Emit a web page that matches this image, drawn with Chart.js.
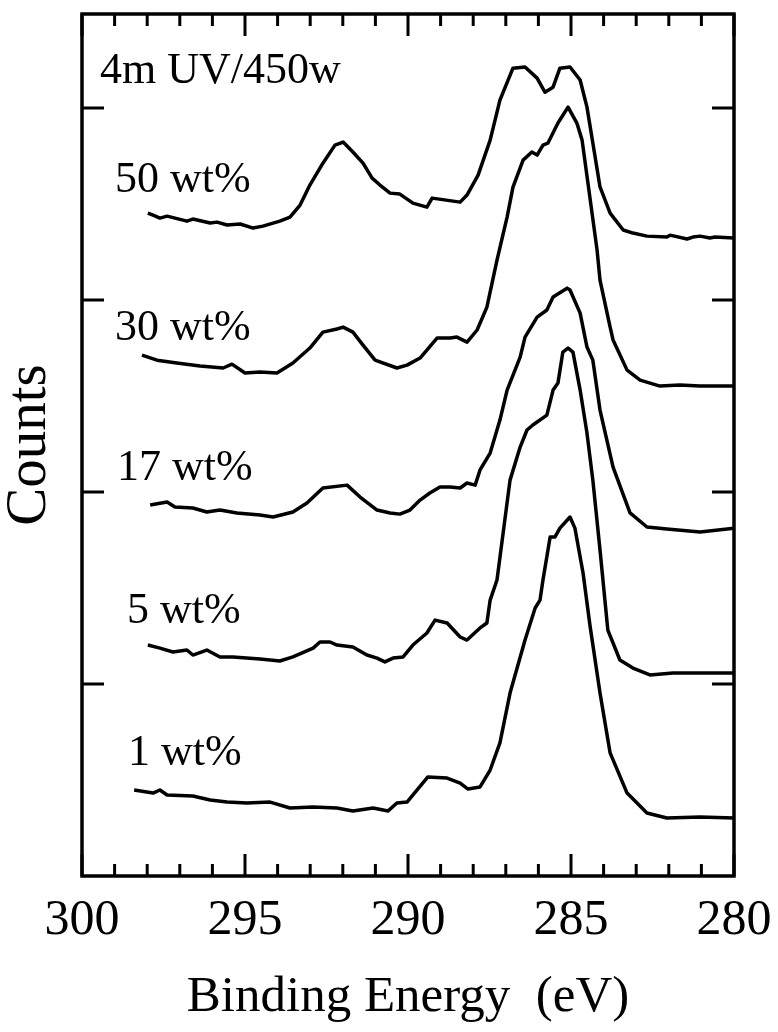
<!DOCTYPE html>
<html>
<head>
<meta charset="utf-8">
<script src="https://cdn.jsdelivr.net/npm/chart.js@4.4.1/dist/chart.umd.min.js"></script>
<style>
  html, body { margin: 0; padding: 0; background: #fff; }
  #wrap { width: 778px; height: 1032px; }
</style>
</head>
<body>
<div id="wrap"><canvas id="graficoXps" width="778" height="1032"></canvas></div>
<script>
// C 1s spectra, binding energy (eV) vs counts (a.u.), curves are stacked
const cabecalho = '4m UV/450w';
const nomesSeries = ['50 wt%', '30 wt%', '17 wt%', '5 wt%', '1 wt%'];
const ticksEnergia = [280, 285, 290, 295, 300];
const ticksContagem = [100, 200, 300, 400];

const e50 = [297.98, 297.82, 297.61, 297.39, 296.78, 296.6, 296.07, 295.86, 295.55, 295.15, 294.75, 294.45, 294.14, 293.93, 293.62, 293.31, 293.01, 292.61, 292.24, 291.99, 291.69, 291.38, 291.1, 290.86, 290.55, 290.25, 289.85, 289.42, 289.26, 288.4, 288.19, 287.85, 287.48, 287.18, 286.78, 286.41, 286.04, 285.8, 285.55, 285.34, 285.03, 284.72, 284.51, 284.33, 284.11, 283.8, 283.4, 283.1, 282.67, 282.06, 281.96, 281.44, 281.26, 281.04, 280.74, 280.58, 280];
const c50 = [345.3, 344.2, 342.7, 343.7, 341.1, 342.2, 340.1, 340.6, 339.1, 339.6, 337.5, 338.5, 340.1, 341.1, 343.2, 349.5, 359.9, 371.3, 380.7, 382.3, 377.1, 371.3, 363.5, 359.9, 355.7, 355.2, 350.5, 348.4, 353.1, 351.0, 354.7, 365.1, 383.3, 404.1, 420.8, 421.4, 415.6, 408.3, 410.9, 420.8, 421.4, 414.6, 400.5, 381.8, 358.9, 345.3, 336.5, 334.9, 333.3, 332.8, 333.8, 331.8, 332.8, 333.3, 332.3, 332.8, 332.3];

const e30 = [298.16, 297.7, 297.09, 296.38, 295.67, 295.4, 295.0, 294.54, 294.02, 293.53, 293.01, 292.61, 292.18, 291.99, 291.69, 291.38, 291.01, 290.34, 290.03, 289.63, 289.11, 288.71, 288.5, 288.19, 287.88, 287.58, 287.27, 286.96, 286.78, 286.47, 286.2, 286.04, 285.86, 285.71, 285.4, 285.09, 284.82, 284.66, 284.48, 284.2, 284.11, 283.8, 283.71, 283.28, 282.88, 282.27, 281.66, 281.04, 280];
const c30 = [271.3, 268.7, 267.2, 265.6, 264.6, 266.6, 262.0, 262.5, 262.0, 267.2, 275.0, 283.3, 284.9, 285.9, 283.3, 276.5, 268.7, 264.6, 266.1, 269.8, 280.2, 280.2, 280.7, 278.1, 284.4, 296.3, 320.8, 343.2, 358.8, 372.9, 377.1, 375.5, 380.7, 381.7, 392.2, 400.5, 392.2, 383.3, 360.9, 326.0, 310.4, 285.9, 279.2, 263.5, 258.3, 255.2, 255.7, 255.2, 255.2];

const e17 = [297.91, 297.39, 297.15, 296.6, 296.17, 295.77, 295.25, 294.54, 294.14, 293.53, 293.1, 292.61, 291.87, 291.47, 290.95, 290.55, 290.25, 289.94, 289.63, 289.33, 289.02, 288.71, 288.4, 288.19, 287.94, 287.79, 287.48, 287.18, 286.96, 286.56, 286.41, 286.04, 285.74, 285.55, 285.12, 285.03, 284.72, 284.51, 284.33, 284.11, 283.71, 283.19, 282.67, 282.06, 281.04, 280];
const c17 = [193.2, 194.8, 192.2, 191.7, 189.6, 190.6, 189.1, 188.0, 187.0, 189.6, 194.3, 202.1, 203.6, 197.4, 190.6, 189.1, 188.5, 190.6, 195.8, 199.5, 202.6, 202.6, 202.1, 204.7, 203.6, 211.5, 220.3, 237.5, 253.1, 270.3, 280.7, 291.1, 294.8, 301.6, 306.2, 305.2, 293.2, 275.5, 268.7, 242.7, 213.0, 189.1, 181.8, 180.7, 179.2, 181.2];

const e5 = [297.98, 297.61, 297.21, 296.78, 296.6, 296.17, 295.77, 295.37, 294.54, 293.93, 293.53, 292.91, 292.7, 292.39, 292.18, 291.69, 291.26, 290.95, 290.71, 290.46, 290.15, 289.85, 289.42, 289.17, 288.8, 288.4, 288.19, 287.79, 287.58, 287.48, 287.27, 286.87, 286.56, 286.35, 286.17, 285.74, 285.55, 285.4, 285.25, 285.09, 284.94, 284.72, 284.51, 284.33, 284.11, 283.87, 283.5, 283.1, 282.58, 281.87, 281.04, 280];
const c5 = [120.3, 118.7, 116.7, 117.7, 115.1, 117.7, 114.1, 114.1, 113.0, 112.0, 114.1, 118.7, 121.9, 121.9, 120.3, 119.3, 115.1, 113.5, 111.5, 113.5, 114.1, 120.3, 126.6, 133.3, 131.8, 124.5, 122.9, 129.2, 131.8, 143.7, 154.2, 206.2, 223.4, 232.3, 234.9, 240.1, 253.1, 256.8, 272.9, 275.0, 272.9, 253.1, 230.7, 206.2, 169.8, 128.1, 112.5, 108.3, 104.7, 105.7, 105.7, 105.7];

const e1 = [298.4, 297.82, 297.61, 297.39, 296.6, 296.07, 295.55, 294.94, 294.23, 293.62, 292.91, 292.18, 291.69, 291.07, 290.61, 290.34, 290.03, 289.72, 289.39, 288.8, 288.4, 288.16, 287.79, 287.48, 287.18, 286.87, 286.41, 286.1, 285.95, 285.86, 285.64, 285.49, 285.34, 285.03, 284.88, 284.63, 284.42, 284.11, 283.8, 283.28, 282.67, 282.06, 281.04, 280];
const c1 = [44.8, 43.2, 44.8, 42.2, 41.7, 39.6, 38.5, 38.0, 38.5, 35.4, 35.9, 35.4, 33.9, 35.4, 33.9, 38.0, 38.5, 44.8, 51.6, 51.0, 48.4, 45.3, 46.4, 55.2, 69.3, 95.3, 122.9, 139.6, 143.7, 154.2, 176.6, 176.6, 181.2, 187.0, 181.2, 157.8, 130.7, 95.3, 64.1, 43.2, 32.8, 30.2, 30.7, 30.2];

const energias = [e50, e30, e17, e5, e1];
const contagens = [c50, c30, c17, c5, c1];

const fonteSerif = '"Liberation Serif", "Times New Roman", serif';

// moldura, marcas internas e rotulos das curvas
const molduraPlugin = {
    id: 'moldura',
    afterDraw(chart, args, opts) {
        const ctx = chart.ctx;
        const area = chart.chartArea;
        const sx = chart.scales.x;
        const sy = chart.scales.y;

        ctx.save();
        ctx.strokeStyle = '#000';
        ctx.lineWidth = 3.5;
        ctx.strokeRect(area.left, area.top, area.right - area.left, area.bottom - area.top);

        ctx.lineWidth = 3;
        ctx.beginPath();
        for (let e = sx.min; e <= sx.max; e += opts.passoMenor) {
            const px = sx.getPixelForValue(e);
            const len = ticksEnergia.includes(e) ? 22 : 12;
            ctx.moveTo(px, area.bottom);
            ctx.lineTo(px, area.bottom - len);
            ctx.moveTo(px, area.top);
            ctx.lineTo(px, area.top + len);
        }
        ticksContagem.forEach(function (c) {
            const py = sy.getPixelForValue(c);
            ctx.moveTo(area.left, py);
            ctx.lineTo(area.left + 22, py);
            ctx.moveTo(area.right, py);
            ctx.lineTo(area.right - 22, py);
        });
        ctx.stroke();

        ctx.fillStyle = '#000';
        ctx.font = '44px ' + fonteSerif;
        ctx.textAlign = 'left';
        ctx.textBaseline = 'alphabetic';
        opts.rotulos.forEach(function (r) {
            ctx.fillText(r.texto, sx.getPixelForValue(r.e), sy.getPixelForValue(r.c));
        });
        ctx.restore();
    }
};

let datasetsXps = [];
for (let i = 0; i < nomesSeries.length; i++) {
    let pontos = [];
    for (let j = 0; j < energias[i].length; j++) {
        pontos.push({ x: energias[i][j], y: contagens[i][j] });
    }
    datasetsXps.push({
        label: nomesSeries[i],
        data: pontos,
        borderColor: '#000',
        borderWidth: 3.5,
        borderJoinStyle: 'round',
        pointRadius: 0,
        fill: false,
        tension: 0
    });
}

const configXps = {
    type: 'line',
    data: { datasets: datasetsXps },
    options: {
        responsive: false,
        animation: false,
        devicePixelRatio: 1,
        layout: { padding: { top: 14, right: 44, left: 0, bottom: 0 } },
        plugins: {
            legend: { display: false },
            tooltip: { enabled: false },
            moldura: {
                passoMenor: 1,
                rotulos: [
                    { texto: cabecalho, e: 299.45, c: 413 },
                    { texto: nomesSeries[0], e: 298.99, c: 356.3 },
                    { texto: nomesSeries[1], e: 298.99, c: 279.2 },
                    { texto: nomesSeries[2], e: 298.93, c: 206.3 },
                    { texto: nomesSeries[3], e: 298.62, c: 131.8 },
                    { texto: nomesSeries[4], e: 298.59, c: 57.8 }
                ]
            }
        },
        scales: {
            x: {
                type: 'linear',
                position: 'bottom',
                min: 280,
                max: 300,
                reverse: true,
                afterBuildTicks: function (scale) {
                    scale.ticks = ticksEnergia.map(function (v) { return { value: v }; });
                },
                afterFit: function (scale) { scale.height = 156; },
                ticks: {
                    color: '#000',
                    font: { family: fonteSerif, size: 50, lineHeight: 1 },
                    padding: 20,
                    maxRotation: 0,
                    autoSkip: false
                },
                grid: { display: false, drawTicks: false },
                border: { display: false },
                title: {
                    display: true,
                    text: 'Binding Energy  (eV)',
                    color: '#000',
                    font: { family: fonteSerif, size: 51, lineHeight: 1 },
                    padding: { top: 0, bottom: 9 }
                }
            },
            y: {
                type: 'linear',
                position: 'left',
                min: 0,
                max: 449,
                afterFit: function (scale) { scale.width = 82; },
                ticks: { display: false },
                grid: { display: false, drawTicks: false },
                border: { display: false },
                title: {
                    display: true,
                    text: 'Counts',
                    color: '#000',
                    font: { family: fonteSerif, size: 57, lineHeight: 1 },
                    padding: { top: 2, bottom: 0 }
                }
            }
        }
    },
    plugins: [molduraPlugin]
};

let graficoXps = new Chart(document.getElementById('graficoXps'), configXps);
</script>
</body>
</html>
